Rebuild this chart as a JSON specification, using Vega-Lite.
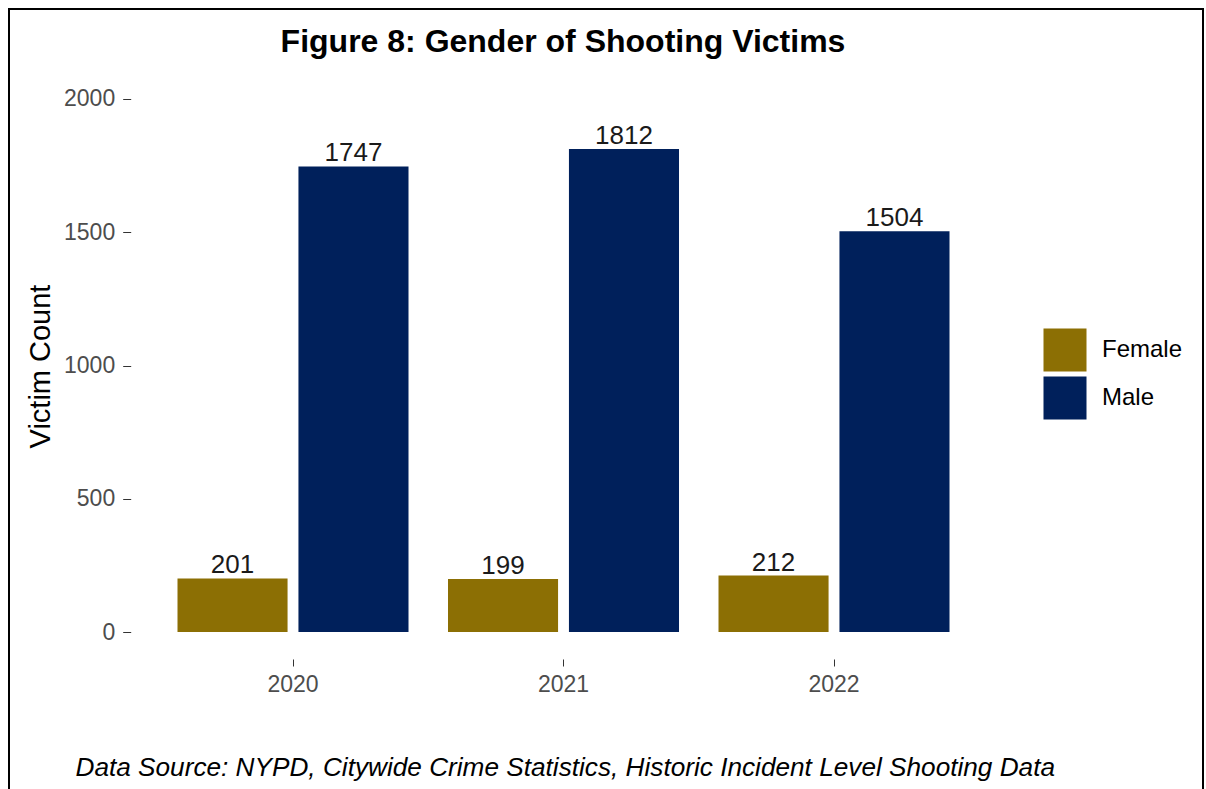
{
  "$schema": "https://vega.github.io/schema/vega-lite/v6.json",
  "width": 1194,
  "height": 790,
  "autosize": {"type": "none"},
  "padding": {"left": 9, "top": 9, "right": 3, "bottom": 0},
  "background": "white",
  "config": {
    "view": {"stroke": "black", "strokeWidth": 2},
    "font": "Liberation Sans"
  },
  "title": {
    "text": "Figure 8: Gender of Shooting Victims",
    "font": "Liberation Sans",
    "fontSize": 32,
    "fontWeight": "bold",
    "color": "black",
    "anchor": "middle",
    "frame": "group",
    "offset": -50,
    "dx": -43
  },
  "data": {
    "values": [
      {"year": "2020", "gender": "Female", "count": 201},
      {"year": "2020", "gender": "Male", "count": 1747},
      {"year": "2021", "gender": "Female", "count": 199},
      {"year": "2021", "gender": "Male", "count": 1812},
      {"year": "2022", "gender": "Female", "count": 212},
      {"year": "2022", "gender": "Male", "count": 1504}
    ]
  },
  "encoding": {
    "x": {
      "field": "year",
      "type": "nominal",
      "sort": ["2020", "2021", "2022"],
      "scale": {"paddingInner": 0.146, "paddingOuter": 0.78, "align": 0.3993},
      "axis": {
        "title": "Data Source: NYPD, Citywide Crime Statistics, Historic Incident Level Shooting Data",
        "titleFont": "Liberation Sans",
        "titleFontSize": 26.2,
        "titleFontStyle": "italic",
        "titleFontWeight": "normal",
        "titleColor": "black",
        "titleX": 66,
        "titleY": 116,
        "titleAlign": "left",
        "titleBaseline": "alphabetic",
        "offset": -140,
        "domain": false,
        "grid": false,
        "labelAngle": 0,
        "labelFont": "Liberation Sans",
        "labelFontSize": 23,
        "labelColor": "#4D4D4D",
        "labelPadding": 7,
        "tickColor": "#333333",
        "tickSize": 7,
        "tickWidth": 1
      }
    },
    "xOffset": {
      "field": "gender",
      "type": "nominal",
      "sort": ["Female", "Male"],
      "scale": {"paddingInner": 0.09, "paddingOuter": 0}
    },
    "y": {
      "field": "count",
      "type": "quantitative",
      "scale": {"domain": [-626.6, 2337.7], "nice": false, "zero": false},
      "axis": {
        "title": "Victim Count",
        "titleFont": "Liberation Sans",
        "titleFontSize": 29,
        "titleFontWeight": "normal",
        "titleColor": "black",
        "titleX": -90.7,
        "titleY": 357,
        "titleAngle": -90,
        "titleAlign": "center",
        "titleBaseline": "middle",
        "offset": -121.7,
        "values": [0, 500, 1000, 1500, 2000],
        "format": "d",
        "domain": false,
        "grid": false,
        "labelFont": "Liberation Sans",
        "labelFontSize": 23,
        "labelColor": "#4D4D4D",
        "labelPadding": 8,
        "tickColor": "#333333",
        "tickSize": 8,
        "tickWidth": 1
      }
    }
  },
  "layer": [
    {
      "mark": {"type": "bar"},
      "encoding": {
        "color": {
          "field": "gender",
          "type": "nominal",
          "scale": {"domain": ["Female", "Male"], "range": ["#8C6F04", "#00205B"]},
          "legend": {
            "title": null,
            "orient": "none",
            "legendX": 1034,
            "legendY": 319,
            "symbolType": "square",
            "symbolSize": 1850,
            "symbolStrokeWidth": 0,
            "symbolOpacity": 1,
            "rowPadding": 4,
            "labelFont": "Liberation Sans",
            "labelFontSize": 24,
            "labelColor": "black",
            "labelOffset": 15
          }
        }
      }
    },
    {
      "mark": {"type": "text", "baseline": "alphabetic", "dy": -5, "fontSize": 26, "font": "Liberation Sans", "color": "#1A1A1A"},
      "encoding": {
        "text": {"field": "count", "type": "quantitative"}
      }
    }
  ]
}
